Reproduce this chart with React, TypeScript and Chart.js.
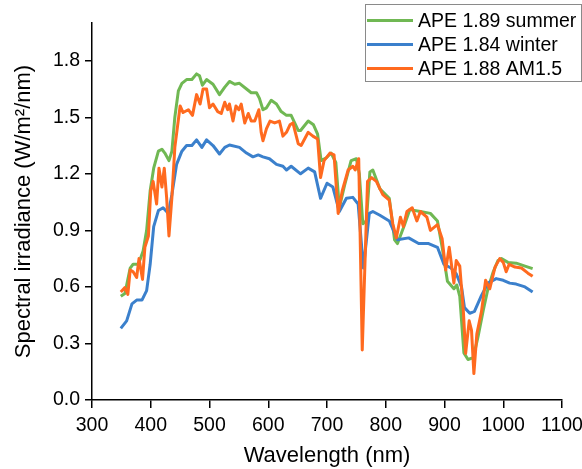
import React, { useEffect, useRef } from "react";
import { Chart, registerables } from "chart.js";

Chart.register(...registerables);

// APE 1.89 summer
const summerWl = [349, 356, 365, 370, 379, 387, 393, 399, 405, 413, 419, 424, 431, 436, 441, 447, 453, 461, 470, 478, 483, 488, 495, 506, 517, 526, 534, 543, 551, 563, 571, 580, 585, 591, 597, 605, 614, 622, 631, 639, 651, 655, 668, 677, 684, 690, 699, 707, 715, 721, 730, 741, 750, 755, 761, 767, 773, 778, 790, 806, 815, 820, 832, 841, 859, 876, 888, 896, 905, 916, 921, 926, 933, 940, 949, 957, 966, 974, 983, 991, 997, 1008, 1022, 1037, 1050];
const summerVal = [0.55, 0.565, 0.70, 0.72, 0.72, 0.79, 0.90, 1.11, 1.23, 1.32, 1.33, 1.31, 1.27, 1.32, 1.50, 1.64, 1.68, 1.70, 1.70, 1.73, 1.72, 1.67, 1.70, 1.675, 1.62, 1.66, 1.69, 1.675, 1.68, 1.65, 1.63, 1.63, 1.60, 1.54, 1.55, 1.59, 1.57, 1.53, 1.51, 1.51, 1.43, 1.43, 1.48, 1.46, 1.41, 1.27, 1.285, 1.31, 1.26, 1.02, 1.14, 1.27, 1.28, 1.20, 0.935, 0.95, 1.21, 1.22, 1.12, 1.07, 0.85, 0.83, 0.93, 1.01, 1.00, 0.99, 0.95, 0.81, 0.63, 0.59, 0.61, 0.55, 0.25, 0.215, 0.225, 0.335, 0.476, 0.59, 0.68, 0.74, 0.75, 0.73, 0.726, 0.71, 0.697];

// APE 1.84 winter
const winterWl = [349, 359, 368, 376, 385, 393, 399, 405, 413, 421, 430, 436, 444, 453, 461, 470, 478, 487, 495, 506, 517, 526, 534, 551, 563, 574, 583, 591, 602, 614, 625, 631, 639, 655, 668, 679, 689, 700, 710, 721, 733, 744, 753, 762, 772, 778, 790, 806, 820, 839, 856, 873, 888, 899, 911, 920, 929, 934, 943, 951, 963, 974, 988, 1000, 1011, 1022, 1037, 1050];
const winterVal = [0.38, 0.42, 0.51, 0.53, 0.53, 0.58, 0.72, 0.92, 1.005, 1.02, 0.99, 1.09, 1.25, 1.32, 1.35, 1.35, 1.38, 1.34, 1.38, 1.35, 1.305, 1.34, 1.353, 1.34, 1.31, 1.29, 1.30, 1.29, 1.28, 1.25, 1.24, 1.22, 1.24, 1.20, 1.23, 1.21, 1.07, 1.15, 1.13, 1.00, 1.07, 1.075, 1.04, 0.70, 0.99, 1.00, 0.98, 0.95, 0.85, 0.86, 0.83, 0.83, 0.81, 0.72, 0.70, 0.67, 0.60, 0.49, 0.46, 0.47, 0.555, 0.62, 0.644, 0.635, 0.62, 0.615, 0.60, 0.573];

// APE 1.88 AM1.5
const am15Wl = [349, 356, 361, 365, 370, 376, 380, 386, 390, 396, 400, 404, 410, 414, 419, 423, 427, 431, 436, 441, 450, 455, 464, 471, 478, 484, 489, 495, 500, 506, 514, 520, 526, 531, 534, 540, 545, 550, 554, 560, 566, 571, 577, 584, 588, 591, 597, 603, 611, 619, 625, 631, 637, 642, 651, 656, 668, 676, 684, 689, 695, 705, 712, 719, 726, 736, 744, 748, 754, 760, 769, 776, 784, 795, 806, 812, 818, 825, 830, 836, 845, 853, 859, 870, 876, 888, 896, 902, 908, 916, 920, 926, 932, 936, 942, 946, 950, 955, 963, 970, 977, 986, 994, 1000, 1005, 1010, 1020, 1031, 1042, 1050];
const am15Val = [0.573, 0.596, 0.56, 0.69, 0.68, 0.65, 0.75, 0.64, 0.81, 0.87, 1.11, 1.16, 1.04, 1.23, 1.13, 1.23, 1.075, 0.87, 1.075, 1.34, 1.56, 1.525, 1.54, 1.51, 1.62, 1.57, 1.65, 1.65, 1.55, 1.57, 1.53, 1.52, 1.58, 1.54, 1.57, 1.48, 1.56, 1.54, 1.57, 1.47, 1.52, 1.48, 1.48, 1.54, 1.42, 1.375, 1.44, 1.48, 1.47, 1.48, 1.40, 1.42, 1.46, 1.47, 1.36, 1.35, 1.42, 1.40, 1.385, 1.18, 1.27, 1.31, 1.30, 0.99, 1.11, 1.22, 1.24, 1.22, 1.28, 0.265, 1.16, 1.18, 1.16, 1.09, 1.06, 0.935, 0.86, 0.97, 0.92, 1.00, 1.02, 0.95, 1.00, 0.97, 0.90, 0.93, 0.855, 0.69, 0.81, 0.62, 0.74, 0.71, 0.476, 0.247, 0.42, 0.37, 0.14, 0.35, 0.47, 0.635, 0.59, 0.705, 0.75, 0.73, 0.68, 0.72, 0.705, 0.70, 0.673, 0.656];

const seriesNames = ["APE 1.89 summer", "APE 1.84 winter", "APE 1.88 AM1.5"];
const seriesColors = ["#70B853", "#3B80CC", "#FF6A1F"];

const yTickValues = [0, 0.3, 0.6, 0.9, 1.2, 1.5, 1.8];
const xTickMin = 300;
const xTickMax = 1100;

const FONT = "'Liberation Sans', Arial, sans-serif";

const toPoints = (xs: number[], ys: number[]) => xs.map((x, i) => ({ x, y: ys[i] }));

const legendPlugin = {
  id: "boxLegend",
  afterDraw(chart: any) {
    const ctx = chart.ctx;
    ctx.save();
    const left = 365.5, top = 4.5, w = 216, h = 77;
    ctx.fillStyle = "#fff";
    ctx.fillRect(left, top, w, h);
    ctx.strokeStyle = "#8a8a8a";
    ctx.lineWidth = 1;
    ctx.strokeRect(left, top, w, h);
    const rows = [20.5, 44.5, 68.5];
    ctx.font = `19.5px ${FONT}`;
    ctx.textBaseline = "middle";
    ctx.textAlign = "left";
    seriesNames.forEach((name, i) => {
      ctx.strokeStyle = seriesColors[i];
      ctx.lineWidth = 3;
      ctx.beginPath();
      ctx.moveTo(367, rows[i]);
      ctx.lineTo(413, rows[i]);
      ctx.stroke();
      ctx.fillStyle = "#000";
      ctx.fillText(name, 418, rows[i] + 1);
    });
    ctx.restore();
  },
};

export default function App() {
  const ref = useRef<HTMLCanvasElement | null>(null);
  useEffect(() => {
    if (!ref.current) return;
    const chart = new Chart(ref.current, {
      type: "line",
      data: {
        datasets: [
          { label: seriesNames[0], data: toPoints(summerWl, summerVal), borderColor: seriesColors[0], order: 2 },
          { label: seriesNames[1], data: toPoints(winterWl, winterVal), borderColor: seriesColors[1], order: 1 },
          { label: seriesNames[2], data: toPoints(am15Wl, am15Val), borderColor: seriesColors[2], order: 0 },
        ].map((d) => ({ ...d, borderWidth: 3, pointRadius: 0, fill: false, tension: 0, borderJoinStyle: "round" as const })),
      },
      options: {
        responsive: false,
        maintainAspectRatio: false,
        animation: false,
        devicePixelRatio: 1,
        layout: { padding: { left: 0, right: 20, top: 23, bottom: 0 } },
        plugins: { legend: { display: false }, tooltip: { enabled: false } },
        scales: {
          x: {
            type: "linear",
            min: xTickMin,
            max: xTickMax,
            ticks: { stepSize: 100, color: "#000", font: { family: FONT, size: 19.5 }, padding: 6, maxRotation: 0, autoSkip: false, callback: (v: any) => String(v) },
            grid: { display: true, drawOnChartArea: false, drawTicks: true, tickLength: 8, color: "#000", lineWidth: 1.5 },
            border: { display: true, color: "#000", width: 1.5 },
            title: { display: true, text: "Wavelength (nm)", color: "#000", font: { family: FONT, size: 22 }, padding: { top: 0, bottom: 0 } },
            afterFit: (s: any) => { s.height = 69; s.paddingLeft = 0; s.paddingRight = 0; },
          },
          y: {
            type: "linear",
            min: 0,
            max: 2.0,
            afterBuildTicks: (s: any) => { s.ticks = yTickValues.map((v) => ({ value: v })); },
            ticks: { color: "#000", font: { family: FONT, size: 19.5 }, padding: 5, callback: (v: any) => Number(v).toFixed(1) },
            grid: { display: true, drawOnChartArea: false, drawTicks: true, tickLength: 7, color: "#000", lineWidth: 1.5 },
            border: { display: true, color: "#000", width: 1.5 },
            title: { display: true, text: "Spectral irradiance (W/m²/nm)", color: "#000", font: { family: FONT, size: 22 }, padding: { top: 11, bottom: 0 } },
            afterFit: (s: any) => { s.width = 92; s.paddingTop = 0; s.paddingBottom = 0; },
          },
        },
      },
      plugins: [legendPlugin],
    });
    return () => chart.destroy();
  }, []);
  return (
    <div style={{ position: "fixed", left: 0, top: 0, width: 582, height: 469, background: "#fff" }}>
      <canvas ref={ref} width={582} height={469} style={{ display: "block" }} />
    </div>
  );
}
